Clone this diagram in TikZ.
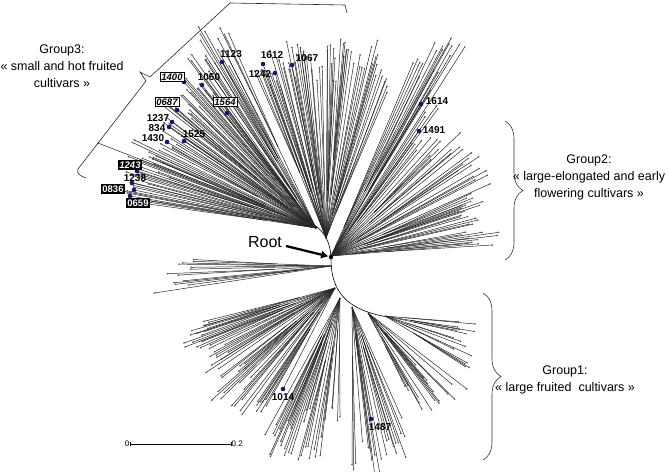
\documentclass[tikz,border=0pt]{standalone}
\usepackage{fontspec}
\setmainfont{Liberation Sans}
\usetikzlibrary{decorations.pathreplacing,arrows.meta}
\definecolor{dotblue}{RGB}{22,22,112}
\tikzset{
  leaf/.style={line width=0.5pt, black!85},
  tipdot/.style={fill=black!65},
  bluedot/.style={fill=dotblue},
  num/.style={font=\bfseries\fontsize{10}{11}\selectfont, inner sep=0pt},
  wbox/.style={draw, fill=white, line width=0.5pt, inner sep=1.2pt, font=\bfseries\itshape\fontsize{9.5}{10}\selectfont},
  bbox/.style={fill=black, text=white, inner sep=1.3pt, font=\bfseries\fontsize{9.5}{10}\selectfont},
  grp/.style={align=center, inner sep=0pt, font=\fontsize{12.5}{17}\selectfont},
  brace3/.style={line width=0.6pt, black!85},
}
\newcommand\fanclade[8]{%
  \foreach \ci in {1,...,#5}{%
    \pgfmathsetmacro\fA{#3+(\ci-1+0.2+0.6*rnd)*(#4-#3)/#5}%
    \pgfmathsetmacro\fL{#6+rnd*(#7-#6)}%
    \pgfmathtruncatemacro\fK{1+floor(rnd*#8)}%
    \pgfmathsetmacro\fS{(0.12+0.3*rnd)*\fL}%
    \pgfmathsetmacro\fPx{#1+\fS*cos(\fA)}%
    \pgfmathsetmacro\fPy{#2-\fS*sin(\fA)}%
    \draw[leaf] (#1,#2) -- (\fPx,\fPy);%
    \foreach \cj in {1,...,\fK}{%
      \pgfmathsetmacro\gA{\fA+(\cj-1-(\fK-1)/2)*0.8+(rnd-0.5)*0.6}%
      \pgfmathsetmacro\gL{\fL+(rnd-0.5)*22}%
      \pgfmathsetmacro\gx{#1+\gL*cos(\gA)}%
      \pgfmathsetmacro\gy{#2-\gL*sin(\gA)}%
      \draw[leaf] (\fPx,\fPy) -- (\gx,\gy);%
      \fill[tipdot] (\gx,\gy) circle (0.9pt);%
    }%
  }%
}
\begin{document}
\begin{tikzpicture}[x=1pt,y=-1pt]
\useasboundingbox (0,0) rectangle (669,471);
\pgfmathsetseed{4242}
% ---- arcs near root
\draw[line width=0.6pt] (331,257) .. controls (330,242) and (325,232) .. (313,224);
\draw[line width=0.6pt] (331,259) .. controls (331,290) and (345,310) .. (388,317);
% ---- Group3 fan
\coordinate (o3) at (316,228);
\fanclade{316}{228}{164}{172}{6}{180}{192}{4}
\fanclade{316}{228}{154}{164}{8}{165}{200}{4}
\fanclade{316}{228}{141}{154}{9}{150}{190}{4}
\fanclade{316}{228}{127}{141}{9}{165}{200}{4}
\fanclade{316}{228}{114}{127}{7}{180}{228}{4}
\draw[leaf] (o3) -- (98,143); \fill[tipdot] (98,143) circle (0.9pt);
% ---- top fan
\coordinate (ot) at (326,238);
\fanclade{326}{238}{100}{113}{9}{165}{200}{4}
\fanclade{326}{238}{86}{100}{9}{160}{195}{4}
\fanclade{326}{238}{67}{86}{10}{155}{195}{4}
% ---- Group2 fan
\coordinate (o2) at (331,256);
\fanclade{331}{256}{57}{66}{7}{200}{258}{4}
\fanclade{331}{256}{42}{57}{7}{130}{185}{4}
\fanclade{331}{256}{24}{42}{9}{140}{185}{4}
\fanclade{331}{256}{3}{24}{10}{135}{160}{4}
% ---- lower left
\coordinate (oll) at (331,266);
\fanclade{331}{266}{177}{190}{7}{140}{180}{4}
% ---- Group1 fan
\coordinate (o1a) at (335,288);
\coordinate (o1b) at (352,307);
\fanclade{335}{288}{194}{212}{9}{125}{155}{4}
\fanclade{335}{288}{212}{240}{12}{120}{170}{4}
\fanclade{340}{298}{240}{270}{12}{110}{170}{4}
\fanclade{352}{307}{270}{295}{10}{110}{168}{4}
\fanclade{368}{313}{295}{325}{8}{70}{130}{4}
\fanclade{385}{316}{328}{358}{7}{70}{104}{4}
% ---- labelled leaves
\foreach \p/\x/\y in {o3/222/62, o3/202/85, o3/184/82, o3/177/110, o3/227/113, o3/172/122, o3/169/127, o3/167/142, o3/184/141, o3/137/171, o3/132/183, o3/134/190, o3/130/196,
  ot/263/64, ot/275/73, ot/292/65, o2/421/104, o2/419/131, o1a/283/389, o1b/371/419}{
  \draw[leaf] (\p) -- (\x,\y);
  \fill[bluedot] (\x,\y) circle (2.3pt);
}
% ---- labels
\node[num] at (231,54) {1123};
\node[num] at (272,55) {1612};
\node[num] at (260,74) {1242};
\node[num] at (307,58) {1067};
\node[num] at (209,77) {1060};
\node[wbox] at (172,77) {1400};
\node[wbox] at (167,102) {0687};
\node[wbox] at (225,102) {1564};
\node[num] at (158,118) {1237};
\node[num] at (157,128) {834};
\node[num] at (153,138) {1430};
\node[num] at (194,134) {1525};
\node[bbox, font=\bfseries\itshape\fontsize{9.5}{10}\selectfont] at (130,165) {1243};
\node[num] at (135,178) {1238};
\node[bbox] at (113,189) {0836};
\node[bbox] at (138,203) {0659};
\node[num] at (437,101) {1614};
\node[num] at (434,130) {1491};
\node[num] at (283,397) {1014};
\node[num] at (380,427) {1487};
% ---- root
\fill (331,257) circle (2.2pt);
\coordinate (root) at (331,257);
\node[font=\fontsize{16}{18}\selectfont, inner sep=0pt] (rootlbl) at (265,242) {Root};
\coordinate (arrS) at (286,246);
\draw[line width=2.3pt, -{Triangle[length=7pt,width=7pt]}, shorten >=3pt] (arrS) -- (root);
% ---- braces
\draw[line width=0.6pt, black!80, decorate, decoration={brace, amplitude=18pt}] (505,121) -- (505,260);
\draw[line width=0.6pt, black!80, decorate, decoration={brace, amplitude=18pt}] (483,293) -- (483,460);
\draw[brace3] (86,178) .. controls (80,176) and (76,173) .. (78,169) -- (146,81) -- (140,72) -- (150,77) -- (230,3) -- (345,5) -- (347,13);
% ---- group texts
\node[grp] at (62,66) {Group3:\\« small and hot fruited\\cultivars »};
\node[grp] at (589,177) {Group2:\\« large-elongated and early\\flowering cultivars »};
\node[grp] at (565,380) {Group1:\\« large fruited\ \ cultivars »};
% ---- scale bar
\draw[line width=0.6pt] (130,444) -- (231,444);
\draw[line width=0.5pt] (130,442) -- (130,446) (231,442) -- (231,446);
\node[font=\fontsize{8}{9}\selectfont, anchor=east, inner sep=0.5pt] at (130,444) {0};
\node[font=\fontsize{8}{9}\selectfont, anchor=west, inner sep=0.5pt] at (231,444) {0.2};
\end{tikzpicture}
\end{document}
